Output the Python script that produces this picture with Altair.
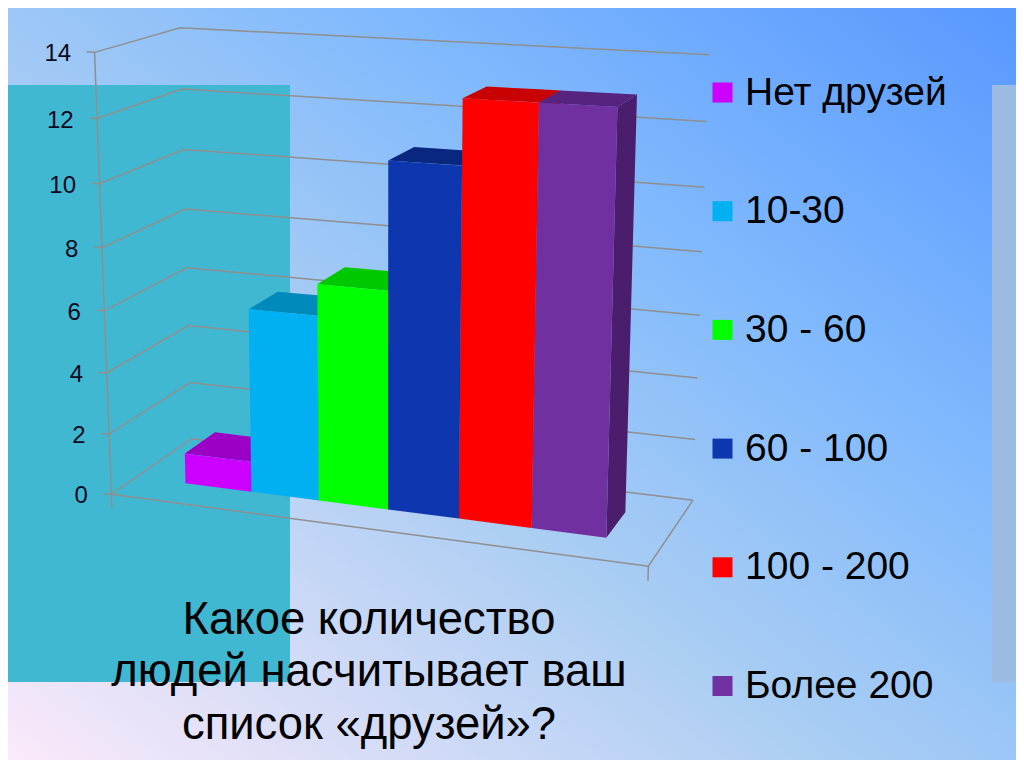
import numpy as np
import pandas as pd
import altair as alt

# ---- chart values ----
categories = ["Нет друзей", "10-30", "30 - 60", "60 - 100", "100 - 200", "Более 200"]
values = [1, 6, 7, 11, 13, 13]
tick_values = [0, 2, 4, 6, 8, 10, 12, 14]
front_colors = ["#cc00ff", "#00b0f0", "#00ff00", "#0e36ae", "#ff0000", "#7030a0"]
top_colors = ["#9c00c4", "#0089bb", "#00c800", "#0a2780", "#c80000", "#56237e"]
side_colors = ["#8a00ad", "#00779f", "#00a800", "#081f66", "#a80000", "#4a1e6c"]
title_lines = ["Какое количество", "людей насчитывает ваш", "список «друзей»?"]
title_baselines = [634, 686, 739]

FONT = "Liberation Sans"


# ---- camera calibration of the pseudo-3D box: (u, value, depth) -> picture ----
def fit_camera(samples):
    a, b = [], []
    for u, v, w, x, y in samples:
        a.append([u, v, w, 1, 0, 0, 0, 0, -x * u, -x * v, -x * w]); b.append(x)
        a.append([0, 0, 0, 0, u, v, w, 1, -y * u, -y * v, -y * w]); b.append(y)
    m = np.linalg.lstsq(np.array(a, float), np.array(b, float), rcond=None)[0]
    return np.append(m, 1.0).reshape(3, 4)


def project(cam, u, v, w):
    p = cam @ np.array([u, v, w, 1.0])
    return float(p[0] / p[2]), float(p[1] / p[2])


frame_cam = fit_camera([
    (0, 14, 0, 95, 53), (0, 12, 0, 97, 118.7), (0, 10, 0, 99, 183.7), (0, 8, 0, 102, 247.7),
    (0, 2, 0, 109, 433), (0, 0, 0, 111, 494.7),
    (0, 14, 1, 180, 27), (0, 12, 1, 182.7, 89), (0, 10, 1, 183, 150), (0, 8, 1, 185, 209), (0, 0, 1, 192, 439),
    (1, 14, 1, 708, 55), (1, 12, 1, 707, 121), (1, 10, 1, 705, 187), (1, 8, 1, 703, 252),
    (1, 2, 1, 695, 440), (1, 0, 1, 692, 500), (1, 0, 0, 649, 566),
])
bar_cam = fit_camera([
    (0, 0, 0, 185.3, 483.3), (0, 1, 0, 184.3, 453.3), (1, 0, 0, 251, 491.5), (1, 1, 0, 251, 463),
    (1, 6, 0, 249, 309), (2, 0, 0, 319, 500), (2, 6, 0, 318, 316), (2, 7, 0, 318, 285),
    (3, 0, 0, 388, 509), (3, 7, 0, 388, 291), (3, 11, 0, 388, 161), (4, 0, 0, 459, 518.3),
    (4, 11, 0, 462, 165), (4, 13, 0, 462.7, 98), (5, 0, 0, 532, 528), (5, 13, 0, 538, 102.7),
    (6, 0, 0, 606.7, 537.7), (6, 13, 0, 617.7, 106.7),
    (0, 1, 1, 215, 432), (4, 13, 1, 487, 86), (6, 13, 1, 637, 95), (6, 0, 1, 625, 512.7),
])


def polygon_rows(points, **extra):
    """An x-monotone polygon as the x / y / y2 rows of an area mark."""
    n = len(points)
    rows = []
    for x in sorted({round(p[0], 3) for p in points}):
        ys = []
        for i in range(n):
            (x0, y0), (x1, y1) = points[i], points[(i + 1) % n]
            x0, x1 = round(x0, 3), round(x1, 3)
            if x0 == x1:
                if x0 == x:
                    ys += [y0, y1]
            elif min(x0, x1) <= x <= max(x0, x1):
                ys.append(y0 + (y1 - y0) * (x - x0) / (x1 - x0))
        rows.append({"x": x, "y": min(ys), "y2": max(ys), **extra})
    return rows


# ---- build tables from the values ----
front_rows, back_rows = [], []
for i, (cat, val) in enumerate(zip(categories, values)):
    P = lambda u, v, w: project(bar_cam, u, v, w)
    front_rows += polygon_rows([P(i, 0, 0), P(i + 1, 0, 0), P(i + 1, val, 0), P(i, val, 0)], category=cat)
    back_rows += polygon_rows([P(i, val, 0), P(i + 1, val, 0), P(i + 1, val, 1), P(i, val, 1)],
                              pid=f"top{i}", paint=top_colors[i])
    back_rows += polygon_rows([P(i + 1, 0, 0), P(i + 1, 0, 1), P(i + 1, val, 1), P(i + 1, val, 0)],
                              pid=f"side{i}", paint=side_colors[i])

line_rows = []


def add_path(pid, pts):
    for k, (x, y) in enumerate(pts):
        line_rows.append({"pid": pid, "k": k, "x": x, "y": y})


F = lambda u, v, w: project(frame_cam, u, v, w)
label_rows = []
for t in tick_values:
    ax, ay = F(0, t, 0)
    add_path(f"grid{t}", [(ax - 8, ay - 0.5), (ax, ay), F(0, t, 1), F(1, t, 1)])
    label_rows.append({"x": ax - 23.5, "y": ay + 2, "label": str(t)})
add_path("axis", [F(0, 14, 0), F(0, -0.45, 0)])
add_path("floor", [F(0, 0, 0), F(1, 0, 0), F(1, 0, 1)])
add_path("stub", [F(1, 0, 0), F(1, -0.45, 0)])

x_enc = alt.X("x:Q", scale=alt.Scale(domain=[8, 1016], nice=False, zero=False), axis=None)
y_enc = alt.Y("y:Q", scale=alt.Scale(domain=[760, 8], nice=False, zero=False), axis=None)

# ---- slide decoration ----
gradient = alt.LinearGradient(
    gradient="linear", x1=0, y1=1, x2=1, y2=0,
    stops=[alt.GradientStop(color="#fdeafa", offset=0),
           alt.GradientStop(color="#a9cdf3", offset=0.42),
           alt.GradientStop(color="#80b9fd", offset=0.68),
           alt.GradientStop(color="#5797ff", offset=1)],
)
slide = alt.Chart(pd.DataFrame({"x": [0], "x2": [1024], "y": [0], "y2": [768]})).mark_rect(fill=gradient).encode(
    x=x_enc, x2="x2:Q", y=y_enc, y2="y2:Q")
panels = alt.Chart(pd.DataFrame({
    "x": [0, 992], "x2": [290, 1024], "y": [85, 85], "y2": [682, 682],
    "paint": ["#41b8d2", "#9cbbe3"]})).mark_rect().encode(
    x=x_enc, x2="x2:Q", y=y_enc, y2="y2:Q", fill=alt.Fill("paint:N", scale=None))

# ---- chart ----
grid = alt.Chart(pd.DataFrame(line_rows)).mark_line(color="#8f8f8f", strokeWidth=1.5).encode(
    x=x_enc, y=y_enc, detail="pid:N", order="k:Q")
tops = alt.Chart(pd.DataFrame(back_rows)).mark_area(orient="vertical").encode(
    x=x_enc, y=y_enc, y2="y2:Q", detail="pid:N", fill=alt.Fill("paint:N", scale=None))
fronts = alt.Chart(pd.DataFrame(front_rows)).mark_area(orient="vertical").encode(
    x=x_enc, y=y_enc, y2="y2:Q",
    color=alt.Color("category:N", sort=categories,
                    scale=alt.Scale(domain=categories, range=front_colors),
                    legend=alt.Legend(orient="none", legendX=695, legendY=65, title=None,
                                      symbolType="square", symbolSize=400, symbolStrokeWidth=0,
                                      labelFontSize=39, labelFont=FONT, labelColor="#000000",
                                      labelLimit=400, labelOffset=3, rowPadding=78.7)))
ticks_text = alt.Chart(pd.DataFrame(label_rows)).mark_text(
    align="right", baseline="middle", font=FONT, fontSize=24, color="#0a0a20").encode(
    x=x_enc, y=y_enc, text="label:N")
title = alt.Chart(pd.DataFrame({"x": [369] * 3, "y": title_baselines, "line": title_lines})).mark_text(
    align="center", baseline="alphabetic", font=FONT, fontSize=45.4, color="#000000").encode(
    x=x_enc, y=y_enc, text="line:N")

chart = alt.layer(slide, panels, grid, tops, fronts, ticks_text, title).properties(
    width=1008, height=752, padding=0,
    autosize=alt.AutoSizeParams(type="none"),
).configure_view(strokeWidth=0)

chart.save("out.html", embed_options={"renderer": "svg", "actions": False})
